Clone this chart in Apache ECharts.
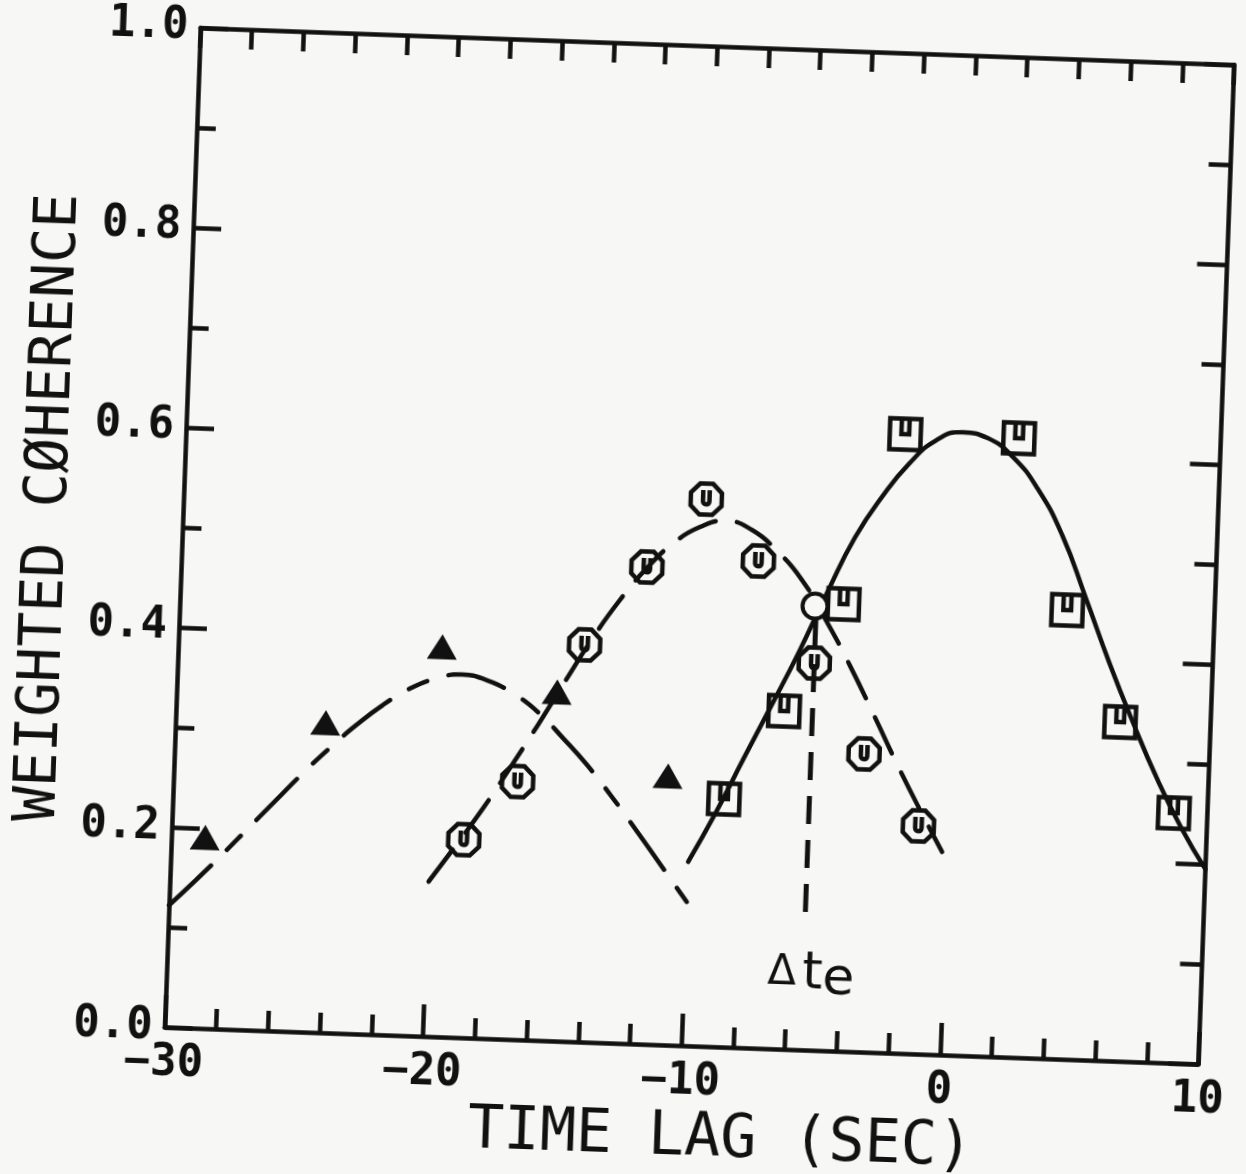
<!DOCTYPE html>
<html><head><meta charset="utf-8">
<script src="https://cdn.jsdelivr.net/npm/echarts@6/dist/echarts.min.js"></script>
<style>
html,body{margin:0;padding:0;background:#f7f7f5;width:1246px;height:1174px;overflow:hidden;}
#chart{position:absolute;left:0;top:0;width:1246px;height:1174px;transform-origin:701.75px 550.75px;transform:rotate(2.05deg);}
</style></head><body><div id="chart"></div>
<script>
// axis ticks and titles
const xTicks = [-30, -20, -10, 0, 10];
const yTicks = [0, 0.2, 0.4, 0.6, 0.8, 1.0];
const xTitle = 'TIME LAG (SEC)';
const yTitle = 'WEIGHTED CØHERENCE';

// measured points (triangles, circles, squares)
const triLag = [-28.7, -24.2, -19.8, -15.3, -10.9];
const triCoh = [0.191, 0.310, 0.390, 0.349, 0.269];
const circLag = [-18.7, -16.7, -14.3, -12.0, -9.8, -7.7, -5.4, -3.35, -1.15];
const circCoh = [0.198, 0.258, 0.397, 0.477, 0.547, 0.487, 0.387, 0.298, 0.228];
const sqLag = [-8.7, -6.5, -4.35, -2.2, 2.2, 4.3, 6.5, 8.7];
const sqCoh = [0.248, 0.338, 0.447, 0.619, 0.619, 0.449, 0.339, 0.250];

// fitted curves
const triFitLag = [-30, -29, -28, -27, -26, -25, -24, -23, -22, -21, -20, -19, -18, -17, -16, -15, -14, -13, -12, -11, -10];
const triFitCoh = [0.122, 0.148, 0.175, 0.203, 0.231, 0.259, 0.285, 0.309, 0.330, 0.347, 0.358, 0.363, 0.358, 0.346, 0.328, 0.303, 0.276, 0.245, 0.212, 0.178, 0.144];
const circFitLag = [-20, -19, -18, -17, -16, -15, -14, -13, -12, -11, -10, -9, -8, -7, -6, -5, -4, -3, -2, -1, -0.2];
const circFitCoh = [0.155, 0.192, 0.230, 0.272, 0.315, 0.360, 0.404, 0.443, 0.476, 0.502, 0.519, 0.526, 0.518, 0.498, 0.470, 0.430, 0.385, 0.336, 0.286, 0.239, 0.203];
const sqFitLag = [-10, -9, -8, -7, -6, -5, -4, -3, -2, -1, 0, 1, 2, 3, 4, 5, 6, 7, 8, 9, 10];
const sqFitCoh = [0.184, 0.234, 0.289, 0.343, 0.398, 0.458, 0.514, 0.556, 0.590, 0.614, 0.623, 0.618, 0.600, 0.569, 0.524, 0.462, 0.398, 0.339, 0.284, 0.236, 0.195];

// crossing marker, delta-t line and its label
const crossLag = [-5.45];
const crossCoh = [0.444];
const dtLag = [-5.4, -5.4];
const dtCoh = [0.43, 0.125];
const dtLabelLag = [-5.1];
const dtLabelCoh = [0.076];

const pair = (xs, ys) => xs.map((x, i) => [x, ys[i]]);
const INK = '#111';
const BG = '#f7f7f5';
const MONO = '"DejaVu Sans Mono", monospace';
const SANS = '"DejaVu Sans", sans-serif';
const circlePath = 'path://M30,2 L70,2 L98,30 L98,70 L70,98 L30,98 L2,70 L2,30 Z M40,22 L40,55 Q40,66 50,66 Q60,66 60,55 L60,22';
const squarePath = 'path://M2,2 L98,2 L98,98 L2,98 Z M38,2 L38,50 L62,50 L62,2';

const fmtX = v => (v < 0 ? '\u2212' + (-v) : '' + v);
const axisLine = { show: true, onZero: false, lineStyle: { color: INK, width: 4.5 } };
const tickStyle = { color: INK, width: 4.5 };

const chart = echarts.init(document.getElementById('chart'), null, { renderer: 'canvas' });
chart.setOption({
  animation: false,
  backgroundColor: 'transparent',
  grid: { left: 182, top: 46, width: 1039, height: 1010, containLabel: false },
  xAxis: [
    {
      type: 'value', position: 'bottom',
      min: xTicks[0], max: xTicks[xTicks.length - 1], interval: xTicks[1] - xTicks[0],
      axisLine: axisLine,
      axisTick: { show: true, inside: true, length: 32, lineStyle: tickStyle },
      minorTick: { show: true, splitNumber: 5, length: 20, lineStyle: tickStyle },
      splitLine: { show: false }, minorSplitLine: { show: false },
      axisLabel: { show: true, formatter: fmtX, color: INK, fontSize: 44, fontWeight: 'bold', fontFamily: MONO, margin: 14 },
      name: xTitle, nameLocation: 'middle', nameGap: 58,
      nameTextStyle: { color: INK, fontSize: 60, fontFamily: MONO, padding: [0, 0, 0, 84] }
    },
    {
      type: 'value', position: 'top',
      min: xTicks[0], max: xTicks[xTicks.length - 1], interval: 2,
      axisLine: axisLine,
      axisTick: { show: true, inside: true, length: 20, lineStyle: tickStyle },
      axisLabel: { show: false }, splitLine: { show: false }
    }
  ],
  yAxis: [
    {
      type: 'value', position: 'left',
      min: yTicks[0], max: yTicks[yTicks.length - 1], interval: yTicks[1] - yTicks[0],
      axisLine: axisLine,
      axisTick: { show: true, inside: true, length: 28, lineStyle: tickStyle },
      minorTick: { show: true, splitNumber: 2, length: 19, lineStyle: tickStyle },
      splitLine: { show: false }, minorSplitLine: { show: false },
      axisLabel: { show: true, formatter: v => v.toFixed(1), color: INK, fontSize: 44, fontWeight: 'bold', fontFamily: MONO, margin: 12 },
      name: yTitle, nameLocation: 'middle', nameGap: 104, nameRotate: 90,
      nameTextStyle: { color: INK, fontSize: 58, fontFamily: MONO, padding: [0, 0, 0, 30] }
    },
    {
      type: 'value', position: 'right',
      min: yTicks[0], max: yTicks[yTicks.length - 1], interval: yTicks[1] - yTicks[0],
      axisLine: axisLine,
      axisTick: { show: true, inside: true, length: 30, lineStyle: tickStyle },
      minorTick: { show: true, splitNumber: 2, length: 22, lineStyle: tickStyle },
      axisLabel: { show: false }, splitLine: { show: false }, minorSplitLine: { show: false }
    }
  ],
  series: [
    {
      type: 'line', data: pair(triFitLag, triFitCoh), showSymbol: false, smooth: 0.5,
      lineStyle: { color: INK, width: 4.5, type: [58, 22, 20, 22], cap: 'round' }, silent: true, z: 3
    },
    {
      type: 'line', data: pair(circFitLag, circFitCoh), showSymbol: false, smooth: 0.5,
      lineStyle: { color: INK, width: 4.5, type: [40, 21], cap: 'round' }, silent: true, z: 3
    },
    {
      type: 'line', data: pair(sqFitLag, sqFitCoh), showSymbol: false, smooth: 0.5,
      lineStyle: { color: INK, width: 4.5, type: 'solid', cap: 'round' }, silent: true, z: 3
    },
    {
      type: 'line', data: pair(dtLag, dtCoh), showSymbol: false,
      lineStyle: { color: INK, width: 5, type: [28, 16], cap: 'butt' }, silent: true, z: 3
    },
    {
      type: 'scatter', data: pair(triLag, triCoh), symbol: 'triangle', symbolSize: [30, 25],
      itemStyle: { color: INK, opacity: 1 }, silent: true, z: 4
    },
    {
      type: 'scatter', data: pair(circLag, circCoh), symbol: circlePath, symbolSize: 31,
      itemStyle: { color: 'rgba(0,0,0,0)', borderColor: INK, borderWidth: 4.5, opacity: 1 }, silent: true, z: 4
    },
    {
      type: 'scatter', data: pair(sqLag, sqCoh), symbol: squarePath, symbolSize: 31,
      itemStyle: { color: 'rgba(0,0,0,0)', borderColor: INK, borderWidth: 4.5, opacity: 1 }, silent: true, z: 4
    },
    {
      type: 'scatter', data: pair(crossLag, crossCoh), symbol: 'circle', symbolSize: 25,
      itemStyle: { color: BG, borderColor: INK, borderWidth: 4, opacity: 1 }, silent: true, z: 5
    },
    {
      type: 'scatter', data: pair(dtLabelLag, dtLabelCoh), symbolSize: 1,
      itemStyle: { color: 'rgba(0,0,0,0)', opacity: 1 }, silent: true, z: 5,
      label: {
        show: true, position: 'inside', formatter: '{d|Δ}{t|t}{e|e}', opacity: 1,
        rich: {
          d: { fontSize: 42, fontFamily: SANS, color: INK, padding: [0, 6, 0, 0] },
          t: { fontSize: 52, fontFamily: SANS, color: INK },
          e: { fontSize: 52, fontFamily: SANS, color: INK, padding: [10, 0, 0, 0] }
        }
      }
    }
  ]
});
</script></body></html>
